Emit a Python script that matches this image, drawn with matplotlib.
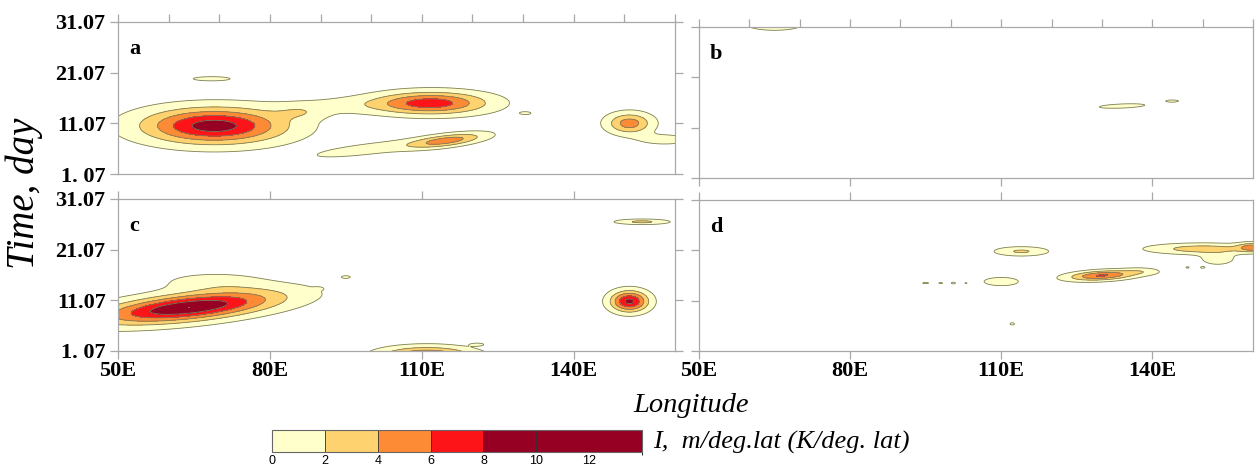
import numpy as np
import matplotlib
matplotlib.use("Agg")
import matplotlib.pyplot as plt
from matplotlib.colors import ListedColormap, BoundaryNorm

# colour bar levels and fills
levels = [0, 2, 4, 6, 8, 10, 12, 14]
fill_colors = ["#ffffcc", "#fed26e", "#fd8a35", "#fc1418", "#960023", "#960023", "#960023"]
cbar_ticks = [0, 2, 4, 6, 8, 10, 12]

xticks = [50, 80, 110, 140]
xtick_labels = ["50E", "80E", "110E", "140E"]
yticks = [1, 11, 21, 31]
ytick_labels = ["1. 07", "11.07", "21.07", "31.07"]

# contour centres:
# lon, day, lon spread, day spread, peak value, tilt (day per deg lon)
a_lon = [69, 86, 96, 112, 115, 100, 151, 158, 68.5, 130.5]
a_day = [10.5, 13.2, 14.6, 15.0, 7.6, 6.0, 11.0, 7.8, 19.8, 13.0]
a_slon = [9.5, 3.5, 9.0, 7.5, 5.0, 9.0, 3.0, 4.0, 4.0, 1.2]
a_sday = [2.4, 1.0, 1.2, 1.5, 0.8, 0.9, 1.4, 0.8, 0.45, 0.3]
a_peak = [9.0, 0.8, 0.4, 7.0, 4.8, 0.9, 5.0, 0.8, 0.5, 0.3]
a_tilt = [0.0, 0.0, 0.0, 0.0, 0.12, 0.12, 0.0, 0.0, 0.0, 0.0]

b_lon = [65, 134, 144]
b_day = [31.6, 15.3, 16.3]
b_slon = [4.5, 5.0, 1.5]
b_sday = [1.0, 0.45, 0.25]
b_peak = [1.2, 0.5, 0.3]
b_tilt = [0.0, 0.04, 0.0]

c_lon = [64, 69, 95, 89.5, 151, 153.5, 111, 121]
c_day = [9.6, 14.6, 15.6, 13.3, 10.8, 26.5, 0.0, 2.3]
c_slon = [12.0, 7.0, 1.0, 0.6, 2.5, 3.5, 6.0, 1.2]
c_sday = [1.8, 1.3, 0.3, 0.2, 1.4, 0.35, 1.2, 0.25]
c_peak = [10.0, 0.9, 0.3, 0.2, 8.5, 2.5, 7.0, 0.3]
c_tilt = [0.1, 0.0, 0.0, 0.0, 0.0, 0.0, 0.0, 0.0]

d_lon = [114, 110, 95, 98, 100.5, 103, 130, 138, 150, 160, 153, 147, 150, 112.2]
d_day = [20.8, 14.8, 14.5, 14.5, 14.5, 14.5, 16.0, 16.8, 21.3, 21.6, 19.3, 17.6, 17.6, 6.4]
d_slon = [3.5, 2.5, 0.8, 0.5, 0.5, 0.3, 4.5, 2.5, 7.0, 2.0, 2.5, 0.5, 0.5, 0.6]
d_sday = [0.6, 0.6, 0.15, 0.15, 0.2, 0.1, 0.65, 0.5, 0.7, 0.6, 0.9, 0.2, 0.2, 0.3]
d_peak = [2.3, 1.5, 0.3, 0.3, 0.4, 0.2, 6.2, 0.8, 3.2, 4.5, 1.0, 0.2, 0.2, 0.3]
d_tilt = [0.0, 0.0, 0.0, 0.0, 0.0, 0.0, 0.05, 0.0, 0.0, 0.0, 0.0, 0.0, 0.0, 0.0]

lon = np.arange(50, 160.01, 0.2)
day = np.arange(0, 32.01, 0.05)
LON, DAY = np.meshgrid(lon, day)


def make_field(blon, bday, slon, sday, peak, tilt):
    z = np.zeros_like(LON)
    for lx, dy, sx, sy, p, t in zip(blon, bday, slon, sday, peak, tilt):
        d = DAY - (dy + t * (LON - lx))
        z += (p + 1) * np.exp(-0.5 * ((LON - lx) / sx) ** 2 - 0.5 * (d / sy) ** 2)
    return z - 1


cmap = ListedColormap(fill_colors)
norm = BoundaryNorm(levels, cmap.N)
serif = "Liberation Serif"
frame = "#a8a8a8"

fig = plt.figure(figsize=(12.57, 4.68), dpi=100)

panels = [
    ("a", [0.0939, 0.6282, 0.4431, 0.3248], (a_lon, a_day, a_slon, a_sday, a_peak, a_tilt)),
    ("b", [0.5561, 0.6197, 0.4407, 0.3226], (b_lon, b_day, b_slon, b_sday, b_peak, b_tilt)),
    ("c", [0.0939, 0.2500, 0.4431, 0.3248], (c_lon, c_day, c_slon, c_sday, c_peak, c_tilt)),
    ("d", [0.5561, 0.2500, 0.4407, 0.3226], (d_lon, d_day, d_slon, d_sday, d_peak, d_tilt)),
]

for name, rect, blobs in panels:
    ax = fig.add_axes(rect)
    z = make_field(*blobs)
    ax.contourf(LON, DAY, z, levels=levels, cmap=cmap, norm=norm)
    ax.contour(LON, DAY, z, levels=levels[:-1], colors="#7d7d5a", linewidths=0.6)
    ax.set_xlim(50, 160)
    ax.set_ylim(1, 31)
    for s in ax.spines.values():
        s.set_color(frame)
        s.set_linewidth(0.9)

    ax.set_yticks(yticks)
    ax.set_xticks(xticks)
    ax.tick_params(which="both", direction="out", length=6, color=frame, width=0.9)
    top_row = name in ("a", "b")
    left_col = name in ("a", "c")

    if left_col:
        ax.set_yticklabels(ytick_labels, fontfamily=serif, fontweight="bold", fontsize=16)
        ax.tick_params(axis="y", right=True, pad=3)
    else:
        ax.set_yticklabels([])

    if top_row:
        ax.set_xticks(range(50, 161, 10), minor=True)
        ax.tick_params(axis="x", which="minor", top=True, bottom=False)
        ax.tick_params(axis="x", which="major", top=True, labelbottom=False,
                       bottom=(name == "b"))
    else:
        ax.set_xticklabels(xtick_labels, fontfamily=serif, fontweight="bold", fontsize=16)
        ax.tick_params(axis="x", top=True, pad=1)

    ax.annotate(name, xy=(0, 1), xycoords="axes fraction", xytext=(8, -12),
                textcoords="offset points", ha="left", va="top",
                fontfamily=serif, fontweight="bold", fontsize=16)

fig.text(0.0195, 0.588, "Time, day", rotation=90, ha="center", va="center",
         fontfamily=serif, fontstyle="italic", fontsize=28)
fig.text(0.5497, 0.1346, "Longitude", ha="center", va="center",
         fontfamily=serif, fontstyle="italic", fontsize=20.5)

cax = fig.add_axes([0.2164, 0.0342, 0.2944, 0.047])
cb = fig.colorbar(plt.cm.ScalarMappable(norm=norm, cmap=cmap), cax=cax,
                  orientation="horizontal", drawedges=True, ticks=cbar_ticks)
cb.outline.set_edgecolor("#666666")
cb.outline.set_linewidth(0.8)
cb.dividers.set_color("#333333")
cb.dividers.set_linewidth(0.6)
cax.tick_params(length=0, pad=2, labelsize=9)
for t in cax.get_xticklabels():
    t.set_fontfamily("Liberation Sans")
fig.text(0.5195, 0.0556, "I,  m/deg.lat (K/deg. lat)", ha="left", va="center",
         fontfamily=serif, fontstyle="italic", fontsize=19)

fig.savefig("out.png", dpi=100)
